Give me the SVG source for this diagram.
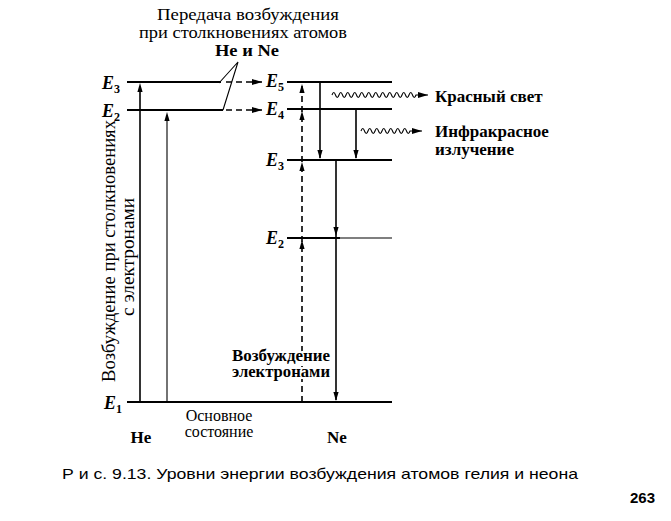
<svg xmlns="http://www.w3.org/2000/svg" width="671" height="521" viewBox="0 0 671 521">
<style>
.t{font-family:"Liberation Serif","DejaVu Serif",serif;font-size:17px;fill:#000}
.h{font-size:18px}
.k{font-size:16px}
.m{font-size:16px}
.b{font-weight:bold}
.e{font-family:"Liberation Serif","DejaVu Serif",serif;font-style:italic;font-weight:bold;font-size:18px}
.s{font-size:12px;font-style:normal}
.cap{font-family:"Liberation Sans","DejaVu Sans",sans-serif;font-size:15px}
.lv{stroke:#000;stroke-width:1.8;fill:none}
.ln{stroke:#000;stroke-width:1.6;fill:none}
.thin{stroke:#000;stroke-width:1.1;fill:none}
.dash{stroke:#000;stroke-width:1.6;fill:none;stroke-dasharray:6 4}
</style>
<defs>
<path id="up" d="M0,0 L-2.6,9 L2.6,9 Z" fill="#000"/>
<path id="dn" d="M0,0 L-2.6,-9 L2.6,-9 Z" fill="#000"/>
<marker id="ar" viewBox="0 0 10 6" refX="10" refY="3" markerWidth="10" markerHeight="6" markerUnits="userSpaceOnUse" orient="auto"><path d="M0,0 L10,3 L0,6 Z" fill="#000"/></marker>
</defs>

<g id="title">
<text class="t k" x="248" y="20" text-anchor="middle" textLength="182" lengthAdjust="spacingAndGlyphs">Передача возбуждения</text>
<text class="t k" x="243" y="38" text-anchor="middle" textLength="208" lengthAdjust="spacingAndGlyphs">при столкновениях атомов</text>
<text class="t k b" x="247" y="56" text-anchor="middle" textLength="64" lengthAdjust="spacingAndGlyphs">He и Ne</text>
</g>

<g id="he-levels">
<text class="e" x="102" y="89">E<tspan class="s" dy="4">3</tspan></text>
<text class="e" x="102" y="117">E<tspan class="s" dy="4">2</tspan></text>
<text class="e" x="104" y="409">E<tspan class="s" dy="4">1</tspan></text>
<line class="lv" x1="127" y1="82" x2="221" y2="82"/>
<line class="lv" x1="127" y1="110" x2="223" y2="110"/>
<line class="lv" x1="127" y1="402" x2="392" y2="402"/>
</g>

<g id="ne-levels">
<text class="e" x="266" y="87">E<tspan class="s" dy="4">5</tspan></text>
<text class="e" x="266" y="115">E<tspan class="s" dy="4">4</tspan></text>
<text class="e" x="266" y="166">E<tspan class="s" dy="4">3</tspan></text>
<text class="e" x="266" y="244">E<tspan class="s" dy="4">2</tspan></text>
<line class="lv" x1="287" y1="82" x2="392" y2="82"/>
<line class="lv" x1="287" y1="109" x2="392" y2="109"/>
<line class="lv" x1="287" y1="160" x2="392" y2="160"/>
<line class="lv" x1="287" y1="238" x2="340" y2="238"/>
<line class="thin" x1="340" y1="238" x2="392" y2="238"/>
</g>

<g id="connectors">
<line class="ln" x1="140" y1="402" x2="140" y2="88"/>
<use href="#up" x="140" y="83"/>
<line class="thin" x1="167" y1="402" x2="167" y2="118"/>
<use href="#up" x="167" y="112"/>
<line class="dash" x1="226" y1="82" x2="262" y2="82" marker-end="url(#ar)"/>
<line class="dash" x1="226" y1="110" x2="262" y2="110" marker-end="url(#ar)"/>
<path class="thin" d="M219,83 L238,62 L223,110"/>
<line class="dash" x1="302" y1="402" x2="302" y2="84"/>
<use href="#up" x="302" y="84"/>
<use href="#up" x="302" y="111"/>
<use href="#up" x="302" y="162"/>
<use href="#up" x="302" y="240"/>
<line class="ln" x1="320" y1="82" x2="320" y2="158"/>
<use href="#dn" x="320" y="159"/>
<line class="ln" x1="356" y1="109" x2="356" y2="158"/>
<use href="#dn" x="356" y="159"/>
<line class="ln" x1="336" y1="160" x2="336" y2="400"/>
<use href="#dn" x="336" y="401"/>
<use href="#dn" x="336" y="236"/>
<path class="thin" d="M332 95 q1.75 -5 3.5 0 t3.5 0 t3.5 0 t3.5 0 t3.5 0 t3.5 0 t3.5 0 t3.5 0 t3.5 0 t3.5 0 t3.5 0 t3.5 0 t3.5 0 t3.5 0 t3.5 0 t3.5 0 t3.5 0 t3.5 0 t3.5 0 t3.5 0 t3.5 0 t3.5 0 t3.5 0 t3.5 0 L428 95" marker-end="url(#ar)"/>
<path class="thin" d="M361 131 q1.75 -5 3.5 0 t3.5 0 t3.5 0 t3.5 0 t3.5 0 t3.5 0 t3.5 0 t3.5 0 t3.5 0 t3.5 0 t3.5 0 t3.5 0 t3.5 0 t3.5 0 L422 131" marker-end="url(#ar)"/>
</g>

<g id="labels">
<text class="t b" x="435" y="102">Красный свет</text>
<text class="t b" x="435" y="137">Инфракрасное</text>
<text class="t b" x="435" y="155">излучение</text>
<text class="t h" transform="translate(115,251) rotate(-90)" text-anchor="middle" textLength="262" lengthAdjust="spacingAndGlyphs">Возбуждение при столкновениях</text>
<text class="t h" transform="translate(134,257) rotate(-90)" text-anchor="middle" textLength="118" lengthAdjust="spacingAndGlyphs">с электронами</text>
<text class="t m b" x="281" y="361" text-anchor="middle" textLength="98" lengthAdjust="spacingAndGlyphs" style="paint-order:stroke" stroke="#fff" stroke-width="4">Возбуждение</text>
<text class="t m b" x="281" y="377" text-anchor="middle" textLength="98" lengthAdjust="spacingAndGlyphs" style="paint-order:stroke" stroke="#fff" stroke-width="4">электронами</text>
<text class="t m" x="219" y="421" text-anchor="middle">Основное</text>
<text class="t m" x="219" y="437" text-anchor="middle">состояние</text>
<text class="t b" x="141" y="443" text-anchor="middle">He</text>
<text class="t b" x="337" y="443" text-anchor="middle">Ne</text>
</g>

<g id="caption">
<text class="cap" x="62" y="479" textLength="516" lengthAdjust="spacingAndGlyphs">Р и с. 9.13. Уровни энергии возбуждения атомов гелия и неона</text>
<text class="cap b" x="630" y="503">263</text>
</g>
</svg>
